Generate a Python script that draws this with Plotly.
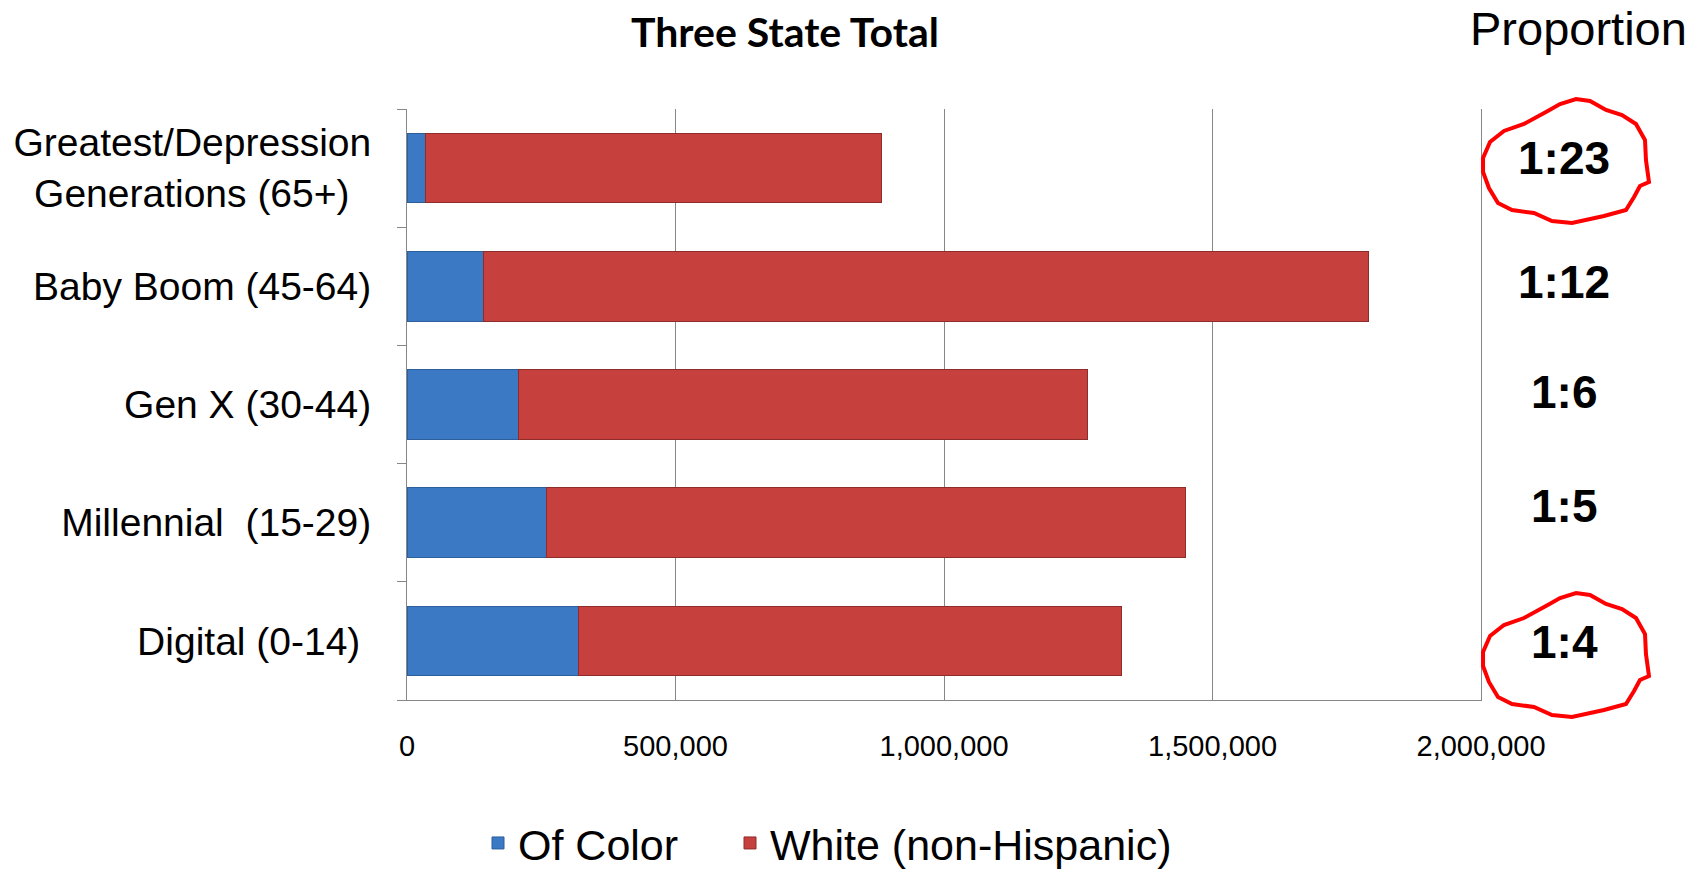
import plotly.graph_objects as go

# ---- data ----
categories = ["Greatest/Depression Generations (65+)", "Baby Boom (45-64)",
              "Gen X (30-44)", "Millennial (15-29)", "Digital (0-14)"]
tick_labels = ["Greatest/Depression<br>Generations (65+)\u00a0\u00a0", "Baby Boom (45-64)",
               "Gen X (30-44)", "Millennial\u00a0 (15-29)", "Digital (0-14)\u00a0"]
of_color = [34000, 142000, 208000, 260000, 320000]
white_non_hispanic = [849000, 1649000, 1059000, 1189000, 1010000]
ratios = ["1:23", "1:12", "1:6", "1:5", "1:4"]
x_ticks = [0, 500000, 1000000, 1500000, 2000000]
x_tick_labels = ["0", "500,000", "1,000,000", "1,500,000", "2,000,000"]

# ---- layout geometry (page pixels) ----
W, H = 1706, 872
L, R, T, B = 407, 1481, 109, 700          # plot area
PW, PH = R - L, B - T


def px2paper(x, y):
    return (x - L) / PW, (B - y) / PH


FONT = "Liberation Sans, Arial, sans-serif"
GRID = "#878787"

fig = go.Figure()
fig.add_trace(go.Bar(
    y=categories, x=of_color, orientation="h", name="Of Color", legend="legend",
    marker=dict(color="#3c79c4", line=dict(color="#2d5f9c", width=1)),
))
fig.add_trace(go.Bar(
    y=categories, x=white_non_hispanic, orientation="h", name="White (non-Hispanic)",
    legend="legend2",
    marker=dict(color="#c6403d", line=dict(color="#8e2c2a", width=1)),
))

# ratio labels at right
ratio_shift = [10, 4, 13, 17, -1]
rx, _ = px2paper(1564, 0)
for cat, r, s in zip(categories, ratios, ratio_shift):
    fig.add_annotation(x=rx, xref="paper", y=cat, yref="y", text="<b>%s</b>" % r,
                       showarrow=False, xanchor="center", yanchor="middle", yshift=s,
                       font=dict(family=FONT, size=46, color="black"))

# title & header
tx, ty = px2paper(785, 31)
fig.add_annotation(x=tx, y=ty, xref="paper", yref="paper", text="<b>Three State Total</b>",
                   showarrow=False, xanchor="center", yanchor="middle",
                   font=dict(family="Lato, sans-serif", size=41, color="black"))
hx, hy = px2paper(1578, 0)
fig.add_annotation(x=hx, y=hy, xref="paper", yref="paper", text="Proportion",
                   showarrow=False, xanchor="center", yanchor="top",
                   font=dict(family=FONT, size=47, color="black"))

# hand-drawn red circles
circle_pts = [(1483, 158), (1490, 142), (1504, 131), (1524, 124), (1546, 112), (1560, 104),
              (1576, 99), (1590, 101), (1606, 110), (1622, 115), (1636, 124), (1645, 140),
              (1646, 160), (1649, 182), (1640, 186), (1634, 197), (1626, 210), (1604, 216),
              (1572, 223), (1552, 221), (1534, 213), (1512, 210), (1498, 203), (1489, 188),
              (1483, 172)]
for dy in (0, 494):
    pts = [px2paper(x, y + dy) for x, y in circle_pts]
    path = "M" + " L".join("%.4f,%.4f" % p for p in pts) + " Z"
    fig.add_shape(type="path", path=path, xref="paper", yref="paper",
                  line=dict(color="#ff0000", width=4))

legend_style = dict(orientation="h", xref="paper", yref="container", y=(H - 843) / H,
                    xanchor="left", yanchor="middle", itemwidth=30,
                    font=dict(family=FONT, size=43, color="black"))

fig.update_layout(
    width=W, height=H,
    margin=dict(l=L, r=W - R, t=T, b=H - B, pad=0, autoexpand=False),
    paper_bgcolor="white", plot_bgcolor="white",
    barmode="stack", bargap=0.41,
    font=dict(family=FONT, color="black"),
    showlegend=True,
    legend=dict(x=px2paper(478, 0)[0], **legend_style),
    legend2=dict(x=px2paper(730, 0)[0], **legend_style),
    xaxis=dict(range=[0, 2000000], tickvals=x_ticks, ticktext=x_tick_labels,
               showgrid=True, gridcolor=GRID, gridwidth=1, zeroline=False,
               showline=True, linecolor=GRID, linewidth=1, ticks="", automargin=False,
               ticklabelstandoff=20, tickfont=dict(family=FONT, size=29, color="black")),
    yaxis=dict(categoryorder="array", categoryarray=categories, autorange="reversed",
               tickvals=categories, ticktext=tick_labels, automargin=False,
               tickson="boundaries", ticks="outside", ticklen=9, tickcolor=GRID,
               showgrid=False, zeroline=False, showline=True, linecolor=GRID,
               linewidth=1, mirror=True, ticklabelstandoff=27,
               tickfont=dict(family=FONT, size=39, color="black")),
)

# remove the default 8px page margin so the figure fills the window exactly
fig.write_html("out.html", config={"displayModeBar": False},
               post_script="document.body.style.margin='0';document.body.style.overflow='hidden';")
